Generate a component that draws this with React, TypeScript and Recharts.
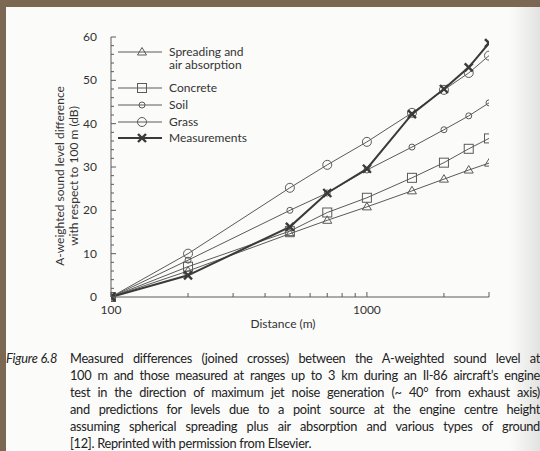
import { LineChart, Line, XAxis, YAxis, Legend } from "recharts";

// distance from the source (m), log axis
const distances = [100, 200, 500, 700, 1000, 1500, 2000, 2500, 3000];

// level difference re 100 m (dB)
const spreading = [0, 6, 14.6, 17.7, 20.8, 24.5, 27.2, 29.3, 30.9];
const concrete = [0, 7, 15.2, 19.5, 22.9, 27.5, 31, 34.2, 36.6];
const soil = [0, 8.5, 20, 24, 29.3, 34.6, 38.6, 41.8, 44.8];
const grass = [0, 10, 25.2, 30.5, 35.8, 42.5, 47.8, 51.7, 55.7];
const measurements = [0, 5, 16.2, 24, 29.6, 42.2, 48, 53, 58.6];

const xTicks = [100, 200, 300, 400, 500, 600, 700, 800, 900, 1000, 2000, 3000];
const xTickLabels = [100, 1000];
const yTicks = [0, 2, 4, 6, 8, 10, 12, 14, 16, 18, 20, 22, 24, 26, 28, 30, 32, 34, 36, 38, 40, 42, 44, 46, 48, 50, 52, 54, 56, 58, 60];
const yTickLabels = [0, 10, 20, 30, 40, 50, 60];

const captionLines = [
  "Measured differences (joined crosses) between the A-weighted sound level at",
  "100 m and those measured at ranges up to 3 km during an Il-86 aircraft\u2019s engine",
  "test in the direction of maximum jet noise generation (~ 40\u00b0 from exhaust axis)",
  "and predictions for levels due to a point source at the engine centre height",
  "assuming spherical spreading plus air absorption and various types of ground",
  "[12]. Reprinted with permission from Elsevier.",
];

const data = distances.map((d, i) => ({
  d,
  spreading: spreading[i],
  concrete: concrete[i],
  soil: soil[i],
  grass: grass[i],
  measurements: measurements[i],
}));

const INK = "#5a5a5a";
const TEXT = "#333";
const FONT = "Lato, 'Open Sans', sans-serif";

function Marker({ kind, cx, cy }: { kind: string; cx: number; cy: number }) {
  if (kind === "triangle")
    return <polygon points={`${cx},${cy - 4.5} ${cx + 4.5},${cy + 3} ${cx - 4.5},${cy + 3}`} fill="none" stroke={INK} strokeWidth={1} />;
  if (kind === "square")
    return <rect x={cx - 4.5} y={cy - 4.5} width={9} height={9} fill="none" stroke={INK} strokeWidth={1} />;
  if (kind === "soil") return <circle cx={cx} cy={cy} r={3} fill="none" stroke={INK} strokeWidth={1} />;
  if (kind === "grass") return <circle cx={cx} cy={cy} r={4.5} fill="none" stroke={INK} strokeWidth={1} />;
  return (
    <g stroke="#3a3a3a" strokeWidth={2.4}>
      <line x1={cx - 4} y1={cy - 4} x2={cx + 4} y2={cy + 4} />
      <line x1={cx - 4} y1={cy + 4} x2={cx + 4} y2={cy - 4} />
    </g>
  );
}

const dot = (kind: string) => (p: any) => <Marker key={`${kind}-${p.index}`} kind={kind} cx={p.cx} cy={p.cy} />;

const XTick = ({ x, y, payload }: any) => {
  const major = payload.value === 100 || payload.value === 1000 || payload.value === 3000;
  return (
    <g>
      <line x1={x} x2={x} y1={y} y2={y - (major ? 5 : 4)} stroke={INK} />
      {xTickLabels.includes(payload.value) && (
        <text x={x} y={y + 17} textAnchor="middle" fontSize={12} fill={TEXT} fontFamily={FONT}>
          {payload.value}
        </text>
      )}
    </g>
  );
};

const YTick = ({ x, y, payload }: any) => {
  const major = payload.value % 10 === 0;
  return (
    <g>
      <line x1={x} x2={x + (major ? 5 : 3)} y1={y} y2={y} stroke={INK} />
      {yTickLabels.includes(payload.value) && (
        <text x={x - 14} y={y + 4} textAnchor="end" fontSize={12} fill={TEXT} fontFamily={FONT}>
          {payload.value}
        </text>
      )}
    </g>
  );
};

const legendItems = [
  { kind: "triangle", label: ["Spreading and", "air absorption"], y: 12 },
  { kind: "square", label: ["Concrete"], y: 48 },
  { kind: "soil", label: ["Soil"], y: 65 },
  { kind: "grass", label: ["Grass"], y: 82 },
  { kind: "meas", label: ["Measurements"], y: 98 },
];

const LegendBox = () => (
  <svg width={200} height={110}>
    {legendItems.map((it) => (
      <g key={it.kind}>
        <line x1={3} x2={47} y1={it.y} y2={it.y} stroke={it.kind === "meas" ? "#3a3a3a" : INK} strokeWidth={it.kind === "meas" ? 2 : 1} />
        <Marker kind={it.kind} cx={27} cy={it.y} />
        {it.label.map((t, j) => (
          <text key={t} x={54} y={it.y + 4 + j * 13} fontSize={12} fill={TEXT} fontFamily={FONT}>
            {t}
          </text>
        ))}
      </g>
    ))}
  </svg>
);

export default function App() {
  return (
    <div style={{ position: "fixed", left: 0, top: 0, width: 540, height: 451, overflow: "hidden", background: "#fbfbfa" }}>
      <div style={{ position: "absolute", right: 0, top: 0, width: 30, height: 451, background: "linear-gradient(to right, rgba(230,230,230,0), #e2e2e0)" }} />
      <div style={{ position: "absolute", left: 0, top: 0, width: 540, height: 7, background: "#7b6752" }} />
      <div style={{ position: "absolute", left: 0, top: 0, width: 6, height: 451, background: "#7b6752" }} />

      <div style={{ position: "absolute", left: 0, top: 0 }}>
        <LineChart width={540} height={451} data={data} margin={{ top: 37, right: 51, bottom: 124, left: 81 }}>
          <XAxis
            dataKey="d"
            type="number"
            scale="log"
            domain={[100, 3000]}
            ticks={xTicks}
            interval={0}
            height={30}
            tickSize={0}
            tickMargin={0}
            tick={<XTick />}
            stroke={INK}
            allowDataOverflow
          />
          <YAxis
            type="number"
            domain={[0, 60]}
            ticks={yTicks}
            interval={0}
            width={30}
            tickSize={0}
            tickMargin={0}
            tick={<YTick />}
            stroke={INK}
          />
          <Legend
            layout="horizontal"
            align="center"
            verticalAlign="middle"
            content={<LegendBox />}
            wrapperStyle={{ position: "absolute", left: 115, top: 40, width: 200 }}
          />
          <Line dataKey="spreading" name="Spreading and air absorption" stroke={INK} strokeWidth={1} dot={dot("triangle")} isAnimationActive={false} />
          <Line dataKey="concrete" name="Concrete" stroke={INK} strokeWidth={1} dot={dot("square")} isAnimationActive={false} />
          <Line dataKey="soil" name="Soil" stroke={INK} strokeWidth={1} dot={dot("soil")} isAnimationActive={false} />
          <Line dataKey="grass" name="Grass" stroke={INK} strokeWidth={1} dot={dot("grass")} isAnimationActive={false} />
          <Line dataKey="measurements" name="Measurements" stroke="#3a3a3a" strokeWidth={2} dot={dot("meas")} isAnimationActive={false} />
        </LineChart>
      </div>

      <div style={{ position: "absolute", left: 67, top: 176, transform: "translate(-50%, -50%) rotate(-90deg)", whiteSpace: "nowrap", fontFamily: FONT, fontSize: 12, color: TEXT, textAlign: "center", lineHeight: "14px" }}>
        A-weighted sound level difference
        <br />
        with respect to 100 m (dB)
      </div>
      <div style={{ position: "absolute", left: 283, top: 323, transform: "translate(-50%, -50%)", whiteSpace: "nowrap", fontFamily: FONT, fontSize: 12, color: TEXT }}>
        Distance (m)
      </div>

      <div style={{ position: "absolute", left: 6, top: 350, fontFamily: FONT, fontSize: 12.8, fontStyle: "italic", color: "#222", lineHeight: "17px", letterSpacing: "-0.2px" }}>
        Figure 6.8
      </div>
      <div style={{ position: "absolute", left: 70, top: 350, fontFamily: FONT, fontSize: 12.8, color: "#222", lineHeight: "17px", letterSpacing: "-0.3px" }}>
        {captionLines.map((t, i) => (
          <div key={i} style={{ width: 470, whiteSpace: "nowrap", textAlign: "justify", textAlignLast: i < captionLines.length - 1 ? "justify" : "left" }}>
            {t}
          </div>
        ))}
      </div>
    </div>
  );
}
